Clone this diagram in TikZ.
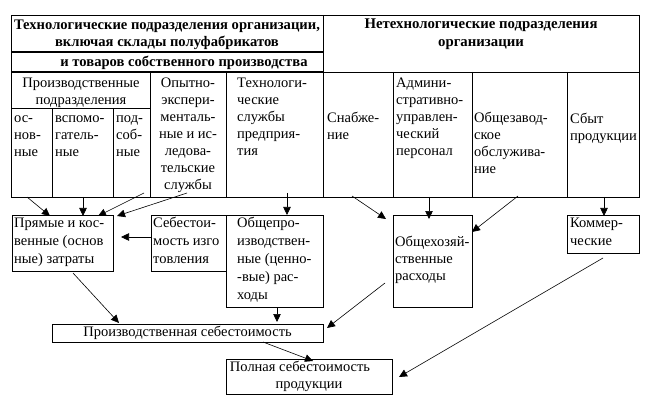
\documentclass[tikz,border=0pt]{standalone}
\usepackage{fontspec}
\setmainfont{Liberation Serif}
\usetikzlibrary{arrows.meta,calc}
\begin{document}
\begin{tikzpicture}[x=1pt,y=-1pt,
 ln/.style={line width=0.8pt},
 thickln/.style={line width=1.6pt},
 arr/.style={line width=0.6pt,-{Triangle[length=8pt,width=7.5pt]}},
 txt/.style={inner sep=0pt,font=\fontsize{14.5}{17}\selectfont,align=left,anchor=north west},
 txtb/.style={txt,font=\fontsize{14.5}{18}\selectfont},
 ctxt/.style={txt,align=center,anchor=north},
 hdr/.style={inner sep=0pt,font=\bfseries\fontsize{14.6}{16.5}\selectfont,align=center},
 hdrr/.style={hdr,font=\bfseries\fontsize{14.8}{18}\selectfont},
 box/.style={draw,line width=0.8pt,inner sep=0pt,anchor=north west},
 cbox/.style={draw,line width=0.8pt,inner sep=0pt,font=\fontsize{14.5}{17}\selectfont,align=center}]
\useasboundingbox (0,0) rectangle (651,417);
% table
\draw[ln] (11,15) rectangle (639,197);
\draw[ln] (323,15) -- (323,197);
\draw[thickln] (11,52) -- (323,52);
\draw[thickln] (11,72) -- (323,72);
\draw[ln] (323,72) -- (639,72);
\draw[ln] (11,108) -- (150,108);
\foreach \x in {52,113} \draw[ln] (\x,108) -- (\x,197);
\foreach \x in {150,226,393,472,567} \draw[ln] (\x,72) -- (\x,197);
% headers
\node[hdr] (h1) at (167,35) {Технологические подразделения организации,\\включая склады полуфабрикатов};
\node[hdr] (h2) at (184,63) {и товаров собственного производства};
\node[hdrr] (h3) at (481,34) {Нетехнологические подразделения\\организации};
% cells
\node[ctxt] (tpr) at (81,75) {\strut Производственные\\подразделения};
\node[txt] (tos) at (14,110) {\strut ос-\\нов-\\ные};
\node[txt] (tvs) at (55,110) {\strut вспомо-\\гатель-\\ные};
\node[txt] (tps) at (116,110) {\strut под-\\соб-\\ные};
\node[ctxt] (top) at (188,75) {\strut Опытно-\\экспери-\\менталь-\\ные и ис-\\ледова-\\тельские\\службы};
\node[txt] (tth) at (237,75) {\strut Технологи-\\ческие\\службы\\предприя-\\тия};
\node[txt] (tsn) at (327,110) {\strut Снабже-\\ние};
\node[txt] (tad) at (396,75) {\strut Админи-\\стративно-\\управлен-\\ческий\\персонал};
\node[txt] (toz) at (474,110) {\strut Общезавод-\\ское\\обслужива-\\ние};
\node[txt] (tsb) at (570,111) {\strut Сбыт\\продукции};
% lower boxes
\node[box,minimum width=101pt,minimum height=56pt] (bpr) at (12,215) {};
\node[box,minimum width=75pt,minimum height=56pt] (bsb) at (151,215) {};
\node[box,minimum width=97pt,minimum height=92pt] (bop) at (226,215) {};
\node[box,minimum width=79pt,minimum height=92pt] (boh) at (393,215) {};
\node[box,minimum width=72pt,minimum height=38pt] (bkm) at (567,215) {};
\node[txtb] (tbpr) at (14,215) {\strut Прямые и кос-\\венные (основ\\ные) затраты};
\node[txtb] (tbsb) at (153,215) {\strut Себестои-\\мость изго\\товления};
\node[txtb] (tbop) at (237,215) {\strut Общепро-\\изводствен-\\ные (ценно-\\-вые) рас-\\ходы};
\node[txt] (tboh) at (395,234) {\strut Общехозяй-\\ственные\\расходы};
\node[txtb] (tbkm) at (570,215) {\strut Коммер-\\ческие};
\node[cbox,minimum width=271pt,minimum height=18pt] (bps) at (187.5,333) {Производственная себестоимость};
\node[cbox,minimum width=166pt,minimum height=35pt] (bpl) at (309,376.5) {Полная себестоимость\rule{18pt}{0pt}\\продукции};
% arrow ends
\coordinate (a1s) at (27,197);  \coordinate (a1e) at (50,216);
\coordinate (a2s) at (83,197);  \coordinate (a2e) at (83,216);
\coordinate (a3s) at (144,193); \coordinate (a3e) at (98,216);
\coordinate (a4s) at (187,193); \coordinate (a4e) at (117,216);
\coordinate (a5s) at (287,193); \coordinate (a5e) at (287,215);
\coordinate (a6e) at (121,237);
\coordinate (a7s) at (73,273);  \coordinate (a7e) at (119,323);
\coordinate (a8e) at (277,322);
\coordinate (a9s) at (385,283); \coordinate (a9e) at (327,328);
\coordinate (a10s) at (603,258); \coordinate (a10e) at (399,377);
\coordinate (a11s) at (263,342); \coordinate (a11e) at (313,361);
\coordinate (a12s) at (352,196); \coordinate (a12e) at (386,219);
\coordinate (a13s) at (429,197); \coordinate (a13e) at (429,219);
\coordinate (a14s) at (518,196); \coordinate (a14e) at (472,232);
\coordinate (a15s) at (604,197); \coordinate (a15e) at (604,216);
\draw[arr] (a1s) -- (a1e);
\draw[arr] (a2s) -- (a2e);
\draw[arr] (a3s) -- (a3e);
\draw[arr] (a4s) -- (a4e);
\draw[arr] (a5s) -- (a5e);
\draw[arr] (bsb.west |- a6e) -- (a6e);
\draw[arr] (a7s) -- (a7e);
\draw[arr] (bop.south -| 277,0) -- (a8e);
\draw[arr] (a9s) -- (a9e);
\draw[arr] (a10s) -- (a10e);
\draw[arr] (a11s) -- (a11e);
\draw[arr] (a12s) -- (a12e);
\draw[arr] (a13s) -- (a13e);
\draw[arr] (a14s) -- (a14e);
\draw[arr] (a15s) -- (a15e);
\end{tikzpicture}
\end{document}
